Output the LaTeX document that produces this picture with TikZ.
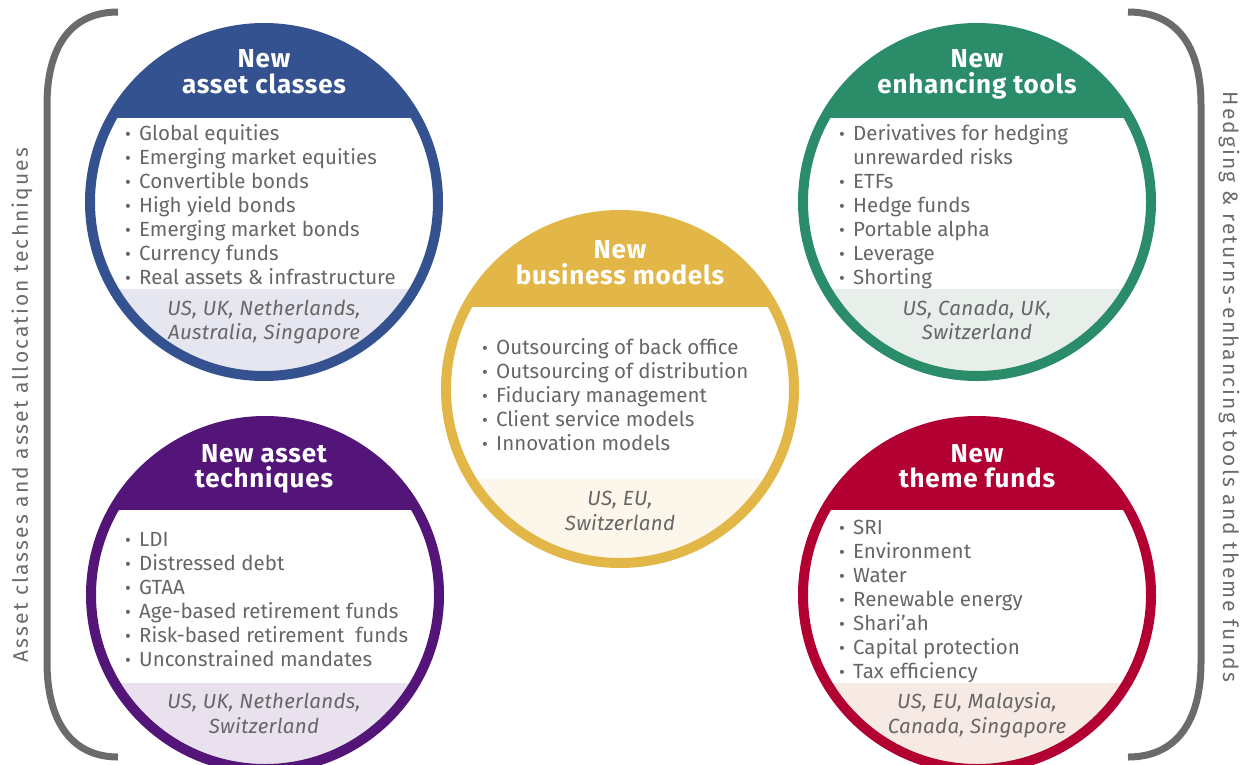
\documentclass[tikz,border=0pt]{standalone}
\usepackage{fontspec}
\setmainfont{Fira Sans}
\definecolor{cblue}{HTML}{34528F}
\definecolor{cpurple}{HTML}{531578}
\definecolor{cgreen}{HTML}{2B8C6A}
\definecolor{cyellow}{HTML}{E3B648}
\definecolor{cred}{HTML}{B20033}
\definecolor{fblue}{HTML}{E6E6F0}
\definecolor{fpurple}{HTML}{E9E2EE}
\definecolor{fgreen}{HTML}{E8EEEA}
\definecolor{fyellow}{HTML}{FDF6EA}
\definecolor{fred}{HTML}{F7E9E4}
\definecolor{tgray}{HTML}{666666}
\definecolor{bgray}{HTML}{6B6B6B}
\tikzset{
  title/.style={font=\fontsize{26}{28}\selectfont\bfseries\addfontfeature{LetterSpace=3}, text=white, inner sep=0pt, anchor=base},
  itm/.style={font=\fontsize{20.5}{24}\selectfont, text=tgray, inner sep=0pt, anchor=base west},
  foot/.style={font=\fontsize{20.5}{24}\selectfont\itshape\addfontfeature{LetterSpace=1.5}, text=tgray, inner sep=0pt, anchor=base},
  bracket/.style={line width=7pt, draw=bgray},
  side/.style={font=\fontsize{21}{21}\selectfont\addfontfeature{LetterSpace=10}, text=bgray, inner sep=0pt}
}
\newcommand\bl{\makebox[14pt][l]{\raisebox{0pt}{\fontsize{18}{18}\selectfont •}}}
\newcommand\nb{\hspace*{14pt}}
\newcommand\bubble[7]{%
  \begin{scope}
    \clip (#2,#3) circle (174);
    \fill[#4] ({#2-180},{#3-180}) rectangle ({#2+180},#6);
    \fill[#5] ({#2-180},#7) rectangle ({#2+180},{#3+180});
  \end{scope}
  \node[circle, draw=#4, line width=10pt, minimum size=348pt, inner sep=0pt] (#1) at (#2,#3) {};
}
\newcommand\itemlist[4]{\foreach \t [count=\i] in {#4}{\node[itm] (#1-\i) at (#2,{#3+24*(\i-1)}) {\t};}}
\begin{document}
\begin{tikzpicture}[x=1pt,y=-1pt]
\useasboundingbox (0,0) rectangle (1249,764);
% brackets
\draw[bracket] (118,12) .. controls (72,12) and (47,45) .. (47,105) -- (47,662) .. controls (47,722) and (72,757) .. (118,757);
\draw[bracket] (1128,12) .. controls (1176,12) and (1201,45) .. (1201,105) -- (1201,662) .. controls (1201,722) and (1176,757) .. (1128,757);
\node[side, rotate=90] (lt) at (22,405) {Asset classes and asset allocation techniques};
\node[side, rotate=-90] (rt) at (1229,387) {Hedging \& returns-enhancing tools and theme funds};
% blue
\bubble{blue}{264}{202}{cblue}{fblue}{118}{289}
\node[title] (blue-t1) at (264,67) {New};
\node[title] (blue-t2) at (264,93) {asset classes};
\itemlist{bi}{125}{140}{\bl Global equities,\bl Emerging market equities,\bl Convertible bonds,\bl High yield bonds,\bl Emerging market bonds,\bl Currency funds,\bl Real assets \& infrastructure}
\node[foot] (blue-f1) at (264,315) {US, UK, Netherlands,};
\node[foot] (blue-f2) at (264,339) {Australia, Singapore};
% green
\bubble{green}{977}{202}{cgreen}{fgreen}{118}{289}
\node[title] (green-t1) at (977,67) {New};
\node[title] (green-t2) at (977,93) {enhancing tools};
\itemlist{gi}{839}{140}{\bl Derivatives for hedging,\nb unrewarded risks,\bl ETFs,\bl Hedge funds,\bl Portable alpha,\bl Leverage,\bl Shorting}
\node[foot] (green-f1) at (977,315) {US, Canada, UK,};
\node[foot] (green-f2) at (977,339) {Switzerland};
% yellow
\bubble{yellow}{620}{389}{cyellow}{fyellow}{307}{479}
\node[title] (yellow-t1) at (620,258) {New};
\node[title] (yellow-t2) at (620,284) {business models};
\itemlist{yi}{482}{354}{\bl Outsourcing of back office,\bl Outsourcing of distribution,\bl Fiduciary management,\bl Client service models,\bl Innovation models}
\node[foot] (yellow-f1) at (620,505) {US, EU,};
\node[foot] (yellow-f2) at (620,530) {Switzerland};
% purple
\bubble{purple}{265}{595}{cpurple}{fpurple}{510}{683}
\node[title] (purple-t1) at (264,462) {New asset};
\node[title] (purple-t2) at (264,487) {techniques};
\itemlist{pi}{125}{546}{\bl LDI,\bl Distressed debt,\bl GTAA,\bl Age-based retirement funds,\bl Risk-based retirement\ \ funds,\bl Unconstrained mandates}
\node[foot] (purple-f1) at (264,708) {US, UK, Netherlands,};
\node[foot] (purple-f2) at (264,733) {Switzerland};
% red
\bubble{red}{977}{595}{cred}{fred}{510}{683}
\node[title] (red-t1) at (977,462) {New};
\node[title] (red-t2) at (977,487) {theme funds};
\itemlist{ri}{839}{534}{\bl SRI,\bl Environment,\bl Water,\bl Renewable energy,\bl Shari’ah,\bl Capital protection,\bl Tax efficiency}
\node[foot] (red-f1) at (977,708) {US, EU, Malaysia,};
\node[foot] (red-f2) at (977,733) {Canada, Singapore};
\end{tikzpicture}
\end{document}
